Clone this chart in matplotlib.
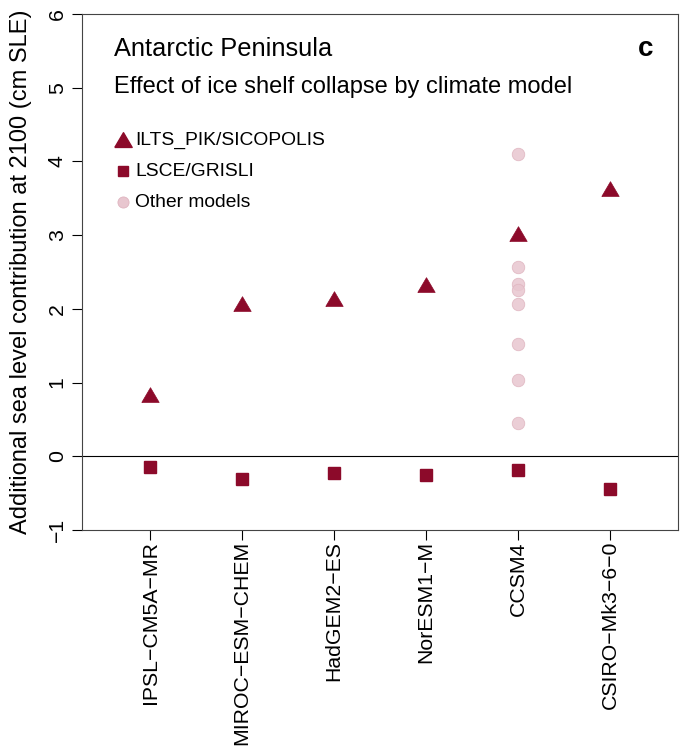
import numpy as np
import matplotlib
matplotlib.use('Agg')
import matplotlib.pyplot as plt

plt.rcParams['font.family'] = ['Liberation Sans', 'DejaVu Sans']

# climate models on the x axis
models = ['IPSL\u2212CM5A\u2212MR', 'MIROC\u2212ESM\u2212CHEM', 'HadGEM2\u2212ES',
          'NorESM1\u2212M', 'CCSM4', 'CSIRO\u2212Mk3\u22126\u22120']

# ILTS_PIK/SICOPOLIS (triangles)
ilts = [0.83, 2.06, 2.14, 2.33, 3.01, 3.63]
# LSCE/GRISLI (squares)
lsce = [-0.14, -0.31, -0.22, -0.26, -0.19, -0.45]
# other ice sheet models, all forced by CCSM4
other_model = 'CCSM4'
other_vals = [4.10, 2.57, 2.34, 2.25, 2.06, 1.53, 1.04, 0.45]

dark_red = '#8c0a2a'
pink = '#e8c6cf'
tri = [(-1, -0.8), (1, -0.8), (0, 0.9), (-1, -0.8)]

fig = plt.figure(figsize=(6.8, 7.51), dpi=100)
ax = fig.add_axes([82 / 680, 1 - 530 / 751, 596 / 680, 516 / 751])

x = np.arange(1, len(models) + 1)
xo = np.full(len(other_vals), models.index(other_model) + 1)

ax.axhline(0, color='black', lw=0.8, zorder=1)
ax.plot(xo, other_vals, 'o', color=pink, alpha=0.85, ms=9, mec='#dfb4bf', mew=0.6, zorder=2)
ax.plot(x, ilts, marker=tri, ls='none', color=dark_red, ms=12.5, mec=dark_red, mew=0.5, zorder=3)
ax.plot(x, lsce, 's', color=dark_red, ms=8.8, mec=dark_red, zorder=3)

ax.set_xlim(0.26, 6.74)
ax.set_ylim(-1, 6)
ax.set_xticks(x)
ax.set_xticklabels(models, rotation=90, fontsize=15.3)
ax.set_yticks(range(-1, 7))
ax.set_yticklabels([str(v).replace('-', '\u2212') for v in range(-1, 7)],
                   rotation=90, va='center', fontsize=15.3)
ax.tick_params(length=7, width=0.8, pad=4)
ax.tick_params(axis='x', pad=1)
for s in ax.spines.values():
    s.set_linewidth(0.8)
    s.set_color('#444444')

ax.set_ylabel('Additional sea level contribution at 2100 (cm SLE)', fontsize=17, labelpad=11)

ax.text(0.053, 0.932, 'Antarctic Peninsula', transform=ax.transAxes, fontsize=18.3, va='center')
ax.text(0.053, 0.858, 'Effect of ice shelf collapse by climate model', transform=ax.transAxes,
        fontsize=17, va='center')
ax.text(0.946, 0.932, 'c', transform=ax.transAxes, fontsize=20, fontweight='bold',
        va='center', ha='center')

# legend drawn by hand in the upper left
leg_y = [0.755, 0.695, 0.635]
ax.plot(0.068, leg_y[0], marker=tri, color=dark_red, ms=12.5, transform=ax.transAxes)
ax.plot(0.068, leg_y[1], 's', color=dark_red, ms=6.8, transform=ax.transAxes)
ax.plot(0.068, leg_y[2], 'o', color=pink, ms=8, mec='#dfb4bf', mew=0.6, transform=ax.transAxes)
for yy, lab in zip(leg_y, ['ILTS_PIK/SICOPOLIS', 'LSCE/GRISLI', 'Other models']):
    ax.text(0.089, yy, lab, transform=ax.transAxes, fontsize=13.9, va='center')

fig.savefig('out.png', dpi=100)
